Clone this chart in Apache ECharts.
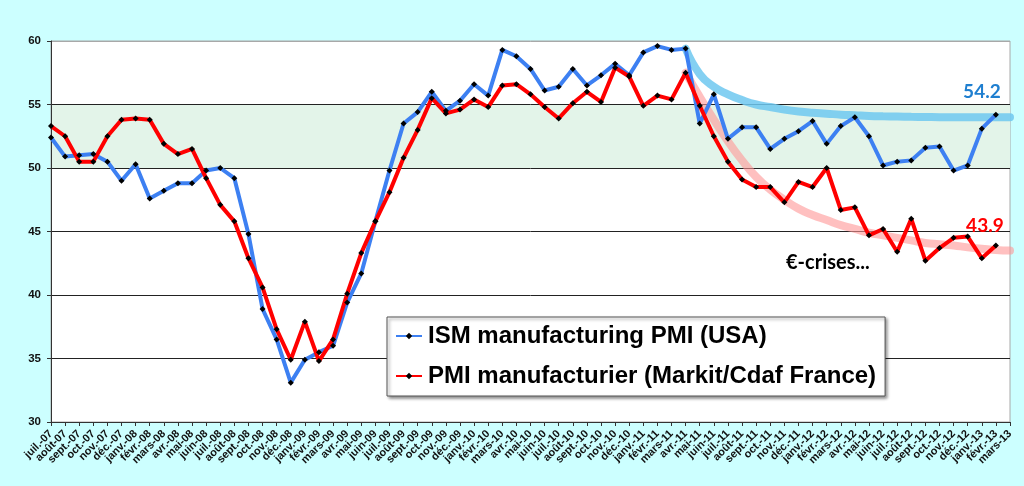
<!DOCTYPE html>
<html>
<head>
<meta charset="utf-8">
<script src="https://cdn.jsdelivr.net/npm/echarts@6/dist/echarts.min.js"></script>
<style>
html,body{margin:0;padding:0;background:#ccffff;}
#chart{width:1024px;height:486px;}
</style>
</head>
<body>
<div id="chart"></div>
<script>
var categories = [
 'juil.-07','août-07','sept.-07','oct.-07','nov.-07','déc.-07',
 'janv.-08','févr.-08','mars-08','avr.-08','mai-08','juin-08','juil.-08','août-08','sept.-08','oct.-08','nov.-08','déc.-08',
 'janv.-09','févr.-09','mars-09','avr.-09','mai-09','juin-09','juil.-09','août-09','sept.-09','oct.-09','nov.-09','déc.-09',
 'janv.-10','févr.-10','mars-10','avr.-10','mai-10','juin-10','juil.-10','août-10','sept.-10','oct.-10','nov.-10','déc.-10',
 'janv.-11','févr.-11','mars-11','avr.-11','mai-11','juin-11','juil.-11','août-11','sept.-11','oct.-11','nov.-11','déc.-11',
 'janv.-12','févr.-12','mars-12','avr.-12','mai-12','juin-12','juil.-12','août-12','sept.-12','oct.-12','nov.-12','déc.-12',
 'janv.-13','févr.-13','mars-13'
];
var ismUSA = [
 52.4,50.9,51.0,51.1,50.5,49.0,
 50.3,47.6,48.2,48.8,48.8,49.8,50.0,49.2,44.8,38.9,36.5,33.1,
 34.9,35.5,36.0,39.4,41.7,45.8,49.8,53.5,54.4,56.0,54.5,55.3,
 56.6,55.7,59.3,58.8,57.8,56.1,56.4,57.8,56.5,57.3,58.2,57.3,
 59.1,59.6,59.3,59.4,53.5,55.8,52.3,53.2,53.2,51.5,52.3,52.9,
 53.7,51.9,53.3,54.0,52.5,50.2,50.5,50.6,51.6,51.7,49.8,50.2,
 53.1,54.2,null
];
var pmiFrance = [
 53.3,52.5,50.5,50.5,52.5,53.8,
 53.9,53.8,51.9,51.1,51.5,49.2,47.1,45.8,42.9,40.6,37.3,34.9,
 37.9,34.8,36.5,40.1,43.3,45.8,48.1,50.8,53.0,55.5,54.3,54.6,
 55.4,54.8,56.5,56.6,55.8,54.8,53.9,55.1,56.0,55.2,57.9,57.2,
 54.9,55.7,55.4,57.5,54.9,52.5,50.5,49.1,48.5,48.5,47.3,48.9,
 48.5,50.0,46.7,46.9,44.7,45.2,43.4,46.0,42.7,43.7,44.5,44.6,
 42.9,43.9,null
];
var trendUSA = [
 null,null,null,null,null,null,null,null,null,null,null,null,null,null,null,
 null,null,null,null,null,null,null,null,null,null,null,null,null,null,null,
 null,null,null,null,null,null,null,null,null,null,null,null,null,null,null,
 59.4,57.4,56.4,55.8,55.35,55.0,54.8,54.6,54.45,54.35,54.28,54.2,54.15,54.1,54.07,
 54.05,54.03,54.02,54.0,54.0,54.0,54.0,54.0,54.0
];
var trendFrance = [
 null,null,null,null,null,null,null,null,null,null,null,null,null,null,null,
 null,null,null,null,null,null,null,null,null,null,null,null,null,null,null,
 null,null,null,null,null,null,null,null,null,null,null,null,null,null,null,
 57.5,55.6,53.8,52.1,50.6,49.3,48.3,47.5,46.8,46.3,45.9,45.5,45.2,44.9,44.7,
 44.5,44.3,44.1,44.0,43.9,43.75,43.65,43.55,43.5
];
var yTicks = [30,35,40,45,50,55,60];
var seriesNames = ['ISM manufacturing PMI (USA)','PMI manufacturier (Markit/Cdaf France)'];
var lastIndex = 67;

function withLastLabel(arr, color, offset) {
  return arr.map(function (v, i) {
    if (i !== lastIndex) return v;
    return {value: v, label: {show: true, position: 'top', distance: 5, offset: offset,
      formatter: function (p) { return p.value.toFixed(1); },
      color: color, fontFamily: 'Lato', fontWeight: 'bold', fontSize: 19}};
  });
}

var chart = echarts.init(document.getElementById('chart'));
chart.setOption({
  backgroundColor: '#ccffff',
  animation: false,
  grid: {left: 51, right: 14, top: 41, bottom: 64, show: true,
    backgroundColor: '#ffffff', borderColor: '#a8a8a8', borderWidth: 1, z: 0},
  legend: {
    data: seriesNames.map(function (n) { return {name: n}; }),
    orient: 'vertical', left: 387, top: 317,
    backgroundColor: '#ffffff', borderColor: '#555', borderWidth: 1,
    padding: [7, 9, 8, 8], itemGap: 16, itemWidth: 26, itemHeight: 8,
    shadowColor: 'rgba(0,0,0,0.45)', shadowBlur: 3, shadowOffsetX: 2, shadowOffsetY: 2,
    textStyle: {fontFamily: 'Liberation Sans', fontWeight: 'bold', fontSize: 24, color: '#000', padding: [0,0,0,1]},
    selectedMode: false
  },
  xAxis: {
    type: 'category', data: categories, boundaryGap: false, z: 2,
    axisLine: {lineStyle: {color: '#333', width: 1}},
    axisTick: {show: true, interval: 0, length: 4, lineStyle: {color: '#333'}},
    axisLabel: {interval: 0, rotate: 45, margin: 10, fontFamily: 'Liberation Sans',
      fontWeight: 'bold', fontSize: 11, color: '#111'},
    splitLine: {show: false}
  },
  yAxis: {
    type: 'value', min: yTicks[0], max: yTicks[yTicks.length - 1], interval: 5, z: 2,
    axisLine: {show: true, lineStyle: {color: '#333', width: 1}},
    axisTick: {show: true, length: 4, lineStyle: {color: '#333'}},
    axisLabel: {margin: 10, fontFamily: 'Liberation Sans', fontWeight: 'bold', fontSize: 11.5, color: '#111'},
    splitLine: {show: true, lineStyle: {color: ['#333','#222','#222','#222','#222','#222','#a8a8a8'], width: 1}}
  },
  graphic: [{
    type: 'text', left: 786, top: 253, z: 10,
    style: {text: '€-crises...', fontFamily: 'Lato', fontWeight: 'bold', fontSize: 20, fill: '#000'}
  }],
  series: [
    {
      name: 'band', type: 'line', data: [], z: 1, silent: true,
      markArea: {silent: true, itemStyle: {color: '#e3f4e9', borderWidth: 0},
        data: [[{yAxis: 50}, {yAxis: 55}]]}
    },
    {
      name: 'trendUSA', type: 'line', data: trendUSA, smooth: 0.5, z: 3, silent: true,
      symbol: 'none', connectNulls: false,
      lineStyle: {color: 'rgba(110,200,240,0.85)', width: 8, cap: 'round'}
    },
    {
      name: 'trendFrance', type: 'line', data: trendFrance, smooth: 0.5, z: 3, silent: true,
      symbol: 'none', connectNulls: false,
      lineStyle: {color: 'rgba(255,150,150,0.6)', width: 8, cap: 'round'}
    },
    {
      name: seriesNames[0], type: 'line', data: withLastLabel(ismUSA, '#1f7fd0', [-14, -5]), z: 4,
      symbol: 'diamond', symbolSize: 6,
      itemStyle: {color: '#000'},
      lineStyle: {color: '#3d80f2', width: 4}
    },
    {
      name: seriesNames[1], type: 'line', data: withLastLabel(pmiFrance, '#ff0000', [-11, -2]), z: 4,
      symbol: 'diamond', symbolSize: 6,
      itemStyle: {color: '#000'},
      lineStyle: {color: '#ff0000', width: 4}
    }
  ]
});
</script>
</body>
</html>
